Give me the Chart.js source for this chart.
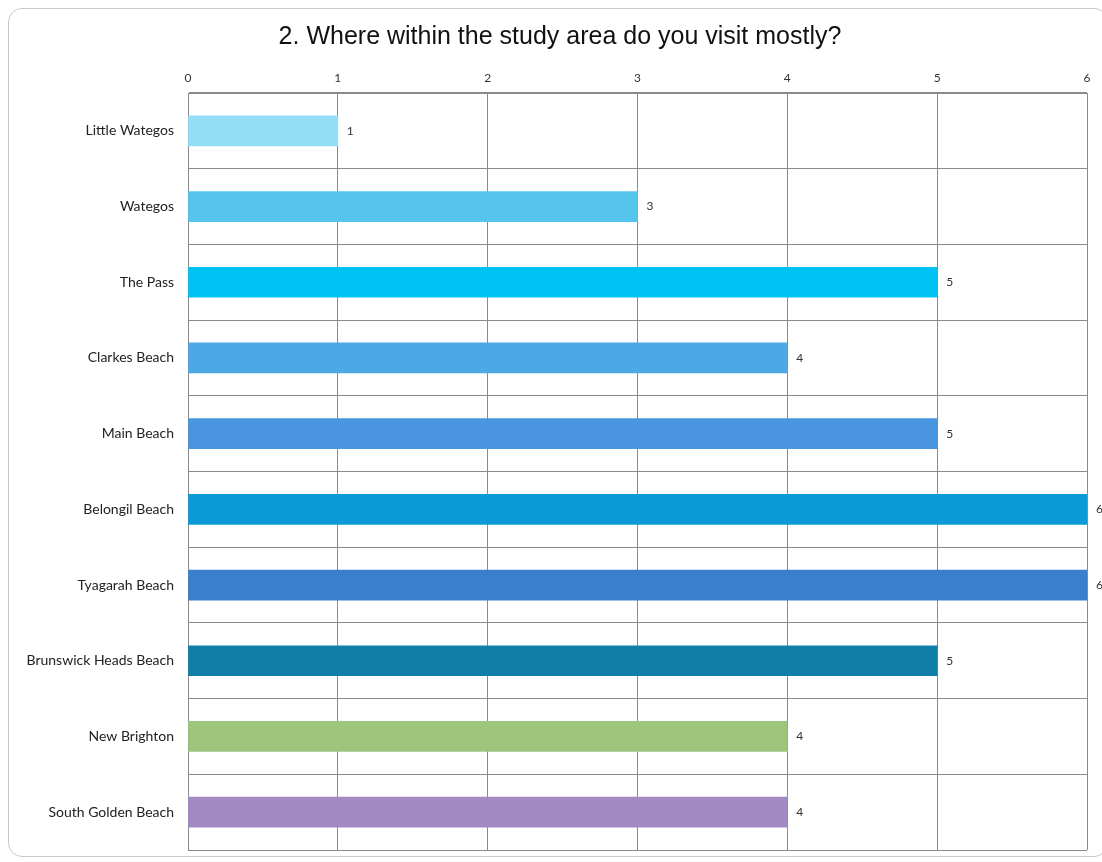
<!DOCTYPE html>
<html>
<head>
<meta charset="utf-8">
<script src="https://cdn.jsdelivr.net/npm/chart.js@4/dist/chart.umd.min.js"></script>
<style>
  html, body { margin: 0; padding: 0; background: #fff; }
  #wrap { position: relative; width: 1102px; height: 862px; }
  #frame { position: absolute; left: 8px; top: 8px; width: 1100px; height: 849px; border: 1px solid #c8c8c8; border-radius: 14px; box-sizing: border-box; }
  #box { position: absolute; left: 0; top: 0; width: 1102px; height: 862px; }
</style>
</head>
<body>
<div id="wrap">
  <div id="frame"></div>
  <div id="box"><canvas id="c"></canvas></div>
</div>
<script>
const title = "2. Where within the study area do you visit mostly?";
const categories = ["Little Wategos", "Wategos", "The Pass", "Clarkes Beach", "Main Beach", "Belongil Beach", "Tyagarah Beach", "Brunswick Heads Beach", "New Brighton", "South Golden Beach"];
const values = [1, 3, 5, 4, 5, 6, 6, 5, 4, 4];
const barColors = ["#93DDF7", "#55C5EE", "#00C2F5", "#4DA8E5", "#4A95DF", "#0A9BD6", "#3A7FCB", "#0F7EA8", "#9DC57B", "#A189C4"];
const axisMin = 0;
const axisMax = 6;

const valueLabels = {
  id: 'valueLabels',
  afterDatasetsDraw(chart) {
    const ctx = chart.ctx;
    const meta = chart.getDatasetMeta(0);
    ctx.save();
    ctx.font = '12px Lato, "Open Sans", sans-serif';
    ctx.fillStyle = '#333';
    ctx.textAlign = 'left';
    ctx.textBaseline = 'middle';
    meta.data.forEach((bar, i) => {
      ctx.fillText(String(values[i]), bar.x + 9, bar.y);
    });
    ctx.restore();
  }
};

const titlePlugin = {
  id: 'titleText',
  afterDraw(chart) {
    const ctx = chart.ctx;
    ctx.save();
    ctx.font = '25px "Liberation Sans", Arial, sans-serif';
    ctx.fillStyle = '#111';
    ctx.textAlign = 'center';
    ctx.textBaseline = 'alphabetic';
    ctx.fillText(title, 560, 44);
    ctx.restore();
  }
};

new Chart(document.getElementById('c'), {
  type: 'bar',
  data: {
    labels: categories,
    datasets: [{
      data: values,
      backgroundColor: barColors,
      borderWidth: 0,
      barThickness: 30
    }]
  },
  options: {
    indexAxis: 'y',
    responsive: true,
    maintainAspectRatio: false,
    animation: false,
    layout: { padding: { left: 0, right: 15, top: 58, bottom: 12 } },
    plugins: {
      legend: { display: false },
      tooltip: { enabled: false },
      title: { display: false }
    },
    scales: {
      x: {
        position: 'top',
        min: axisMin,
        max: axisMax,
        ticks: { stepSize: 1, color: '#333', padding: 8, font: { family: 'Lato, "Open Sans", sans-serif', size: 12 } },
        grid: { color: '#8a8a8a', lineWidth: 1, drawTicks: false },
        border: { color: '#8a8a8a' },
        afterFit(scale) { scale.height = 35; }
      },
      y: {
        ticks: { color: '#222', padding: 14, font: { family: 'Lato, "Open Sans", sans-serif', size: 14 } },
        grid: { color: '#8a8a8a', lineWidth: 1, drawTicks: false, offset: true },
        border: { color: '#8a8a8a' },
        afterFit(scale) { scale.width = 188; scale.paddingTop = 0; scale.paddingBottom = 0; }
      }
    }
  },
  plugins: [valueLabels, titlePlugin]
});
</script>
</body>
</html>
